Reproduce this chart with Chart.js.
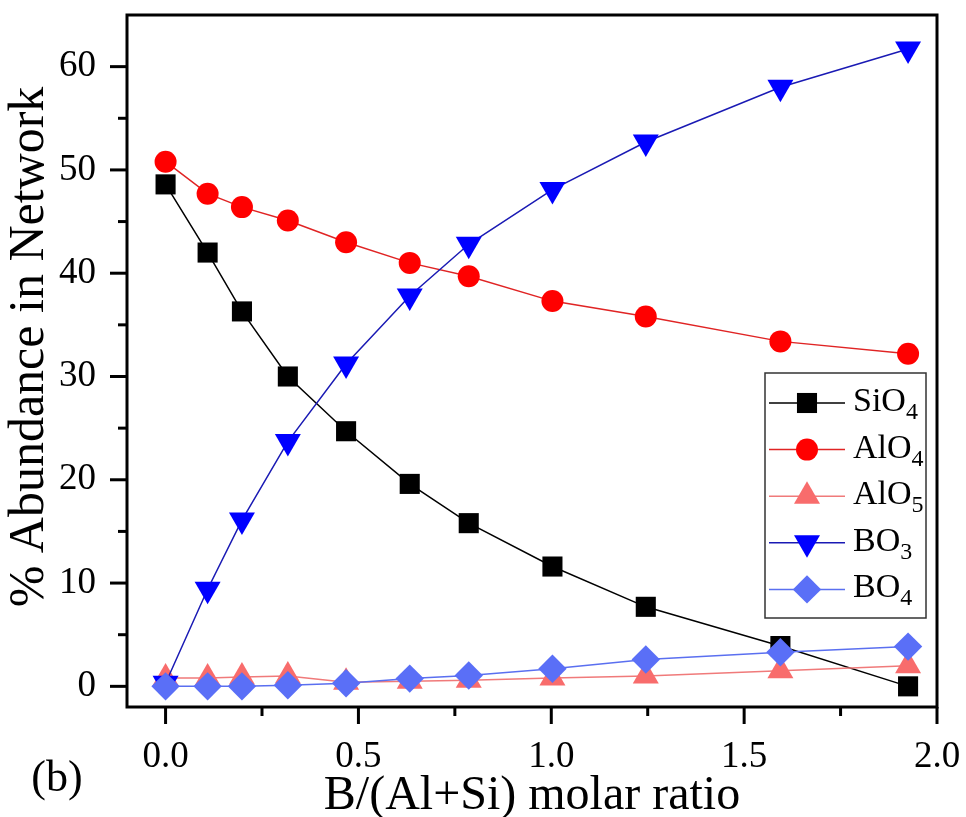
<!DOCTYPE html>
<html><head><meta charset="utf-8">
<script src="https://cdn.jsdelivr.net/npm/chart.js@4.4.1/dist/chart.umd.min.js"></script>
<style>html,body{margin:0;padding:0;background:#fff}#wrap{width:966px;height:817px;position:relative}</style>
</head><body><div id="wrap"><canvas id="c"></canvas></div>
<script>
// ---- data ----
const ratio = [0, 0.109, 0.198, 0.317, 0.468, 0.633, 0.786, 1.003, 1.245, 1.594, 1.925];
const sio4  = [48.6, 42.0, 36.3, 30.0, 24.7, 19.6, 15.8, 11.6, 7.7, 3.9, 0.0];
const alo4  = [50.8, 47.7, 46.4, 45.1, 43.0, 41.0, 39.7, 37.3, 35.8, 33.4, 32.2];
const alo5  = [0.8, 0.8, 0.9, 1.0, 0.4, 0.5, 0.6, 0.8, 1.0, 1.5, 2.0];
const bo3   = [0.3, 9.4, 16.1, 23.7, 31.2, 37.8, 42.8, 48.1, 52.7, 58.0, 61.7];
const bo4   = [0.0, 0.0, 0.0, 0.1, 0.3, 0.75, 1.05, 1.7, 2.6, 3.3, 3.85];
const seriesNames = ['SiO4', 'AlO4', 'AlO5', 'BO3', 'BO4'];
const xTicks = [0, 0.5, 1.0, 1.5, 2.0];
const xMinor = [0.25, 0.75, 1.25, 1.75];
const yTicks = [0, 10, 20, 30, 40, 50, 60];
const yMinor = [5, 15, 25, 35, 45, 55];
const xTitle = 'B/(Al+Si) molar ratio';
const yTitle = '% Abundance in Network';
const panelLabel = '(b)';

const FONT = "'Liberation Serif', 'Times New Roman', serif";

function series(label, vals, fill, line, style, r, rot, order) {
  return {
    label, data: ratio.map((x, i) => ({x, y: vals[i]})),
    borderColor: line, backgroundColor: fill,
    pointBackgroundColor: fill, pointBorderColor: fill, pointBorderWidth: 0,
    pointStyle: style, pointRadius: r, pointHoverRadius: r, pointRotation: rot,
    borderWidth: 1.5, tension: 0, order, showLine: true, fill: false
  };
}

const datasets = [
  series(seriesNames[0], sio4, '#000000', '#000000', 'rect', 14.2, 0, 5),
  series(seriesNames[1], alo4, '#ff0000', '#e02424', 'circle', 11, 0, 4),
  series(seriesNames[2], alo5, '#f86c6c', '#f07a7a', 'triangle', 15, 0, 3),
  series(seriesNames[3], bo3,  '#0000ff', '#1a1ab4', 'triangle', 15, 180, 2),
  series(seriesNames[4], bo4,  '#5a6ff7', '#5a6ff0', 'rectRot', 14.2, 0, 1)
];

function marker(ctx, style, x, y, r, rot) {
  ctx.beginPath();
  if (style === 'circle') {
    ctx.arc(x, y, r, 0, Math.PI * 2);
  } else if (style === 'rect') {
    const s = Math.SQRT1_2 * r;
    ctx.rect(x - s, y - s, 2 * s, 2 * s);
  } else if (style === 'rectRot') {
    ctx.moveTo(x, y - r); ctx.lineTo(x + r, y); ctx.lineTo(x, y + r); ctx.lineTo(x - r, y);
  } else if (style === 'triangle') {
    let a = rot * Math.PI / 180;
    ctx.moveTo(x + Math.sin(a) * r, y - Math.cos(a) * r);
    a += 2 * Math.PI / 3;
    ctx.lineTo(x + Math.sin(a) * r, y - Math.cos(a) * r);
    a += 2 * Math.PI / 3;
    ctx.lineTo(x + Math.sin(a) * r, y - Math.cos(a) * r);
  }
  ctx.closePath();
  ctx.fill();
}

const TITLE_SHIFT = 28;
const decor = {
  id: 'decor',
  beforeDraw(chart) {
    // the reference's y title sits a little above the plot centre:
    // shift the y scale box only while the axis (and its title) is drawn
    chart.scales.y.bottom -= TITLE_SHIFT;
  },
  beforeDatasetsDraw(chart) {
    chart.scales.y.bottom += TITLE_SHIFT;
  },
  afterDraw(chart) {
    const {ctx, chartArea: a, scales: {x, y}} = chart;
    ctx.save();
    // frame
    ctx.strokeStyle = '#000';
    ctx.lineWidth = 3;
    ctx.lineCap = 'butt';
    ctx.strokeRect(a.left, a.top, a.right - a.left, a.bottom - a.top);
    const seg = (x1, y1, x2, y2) => { ctx.beginPath(); ctx.moveTo(x1, y1); ctx.lineTo(x2, y2); ctx.stroke(); };
    xTicks.forEach(v => { const p = x.getPixelForValue(v); seg(p, a.bottom, p, a.bottom + 17); });
    xMinor.forEach(v => { const p = x.getPixelForValue(v); seg(p, a.bottom, p, a.bottom + 9); });
    yTicks.forEach(v => { const p = y.getPixelForValue(v); seg(a.left, p, a.left - 17, p); });
    yMinor.forEach(v => { const p = y.getPixelForValue(v); seg(a.left, p, a.left - 9, p); });

    // legend
    const lx = 765, ly = 373, lw = 161, lh = 245;
    ctx.fillStyle = '#fff';
    ctx.fillRect(lx, ly, lw, lh);
    ctx.strokeStyle = '#333';
    ctx.lineWidth = 1.5;
    ctx.strokeRect(lx, ly, lw, lh);
    datasets.forEach((ds, i) => {
      const ry = 403 + i * 46.6;
      ctx.strokeStyle = ds.borderColor;
      ctx.lineWidth = 1.5;
      seg(769, ry, 845, ry);
      ctx.fillStyle = ds.pointBackgroundColor;
      marker(ctx, ds.pointStyle, 807, ry, ds.pointRadius, ds.pointRotation);
      const name = ds.label;
      const base = name.replace(/\d+$/, '');
      const sub = name.slice(base.length);
      ctx.fillStyle = '#000';
      ctx.textBaseline = 'alphabetic';
      ctx.textAlign = 'left';
      ctx.font = "34px " + FONT;
      ctx.fillText(base, 853, ry + 8);
      const w = ctx.measureText(base).width;
      ctx.font = "24px " + FONT;
      ctx.fillText(sub, 853 + w, ry + 16);
    });

    // panel label
    ctx.fillStyle = '#000';
    ctx.font = "44px " + FONT;
    ctx.textAlign = 'center';
    ctx.textBaseline = 'alphabetic';
    ctx.fillText(panelLabel, 57, 791);
    ctx.restore();
  }
};

function fixBox(s, prop, val) {
  s[prop] = val;
  s.paddingTop = 0; s.paddingBottom = 0; s.paddingLeft = 0; s.paddingRight = 0;
}

new Chart(document.getElementById('c'), {
  type: 'line',
  data: {datasets},
  plugins: [decor],
  options: {
    responsive: true,
    maintainAspectRatio: false,
    animation: false,
    events: [],
    layout: {padding: {left: 0, top: 15, right: 29, bottom: 0}},
    plugins: {legend: {display: false}, tooltip: {enabled: false}},
    scales: {
      x: {
        type: 'linear', min: -0.1, max: 2.0,
        afterFit(s) { fixBox(s, 'height', 110); },
        afterBuildTicks(s) { s.ticks = xTicks.map(v => ({value: v})); },
        grid: {display: false, drawTicks: false},
        border: {display: false},
        ticks: {
          color: '#000', padding: 28, maxRotation: 0, autoSkip: false,
          font: {family: FONT, size: 37},
          callback: v => v.toFixed(1)
        },
        title: {display: true, text: xTitle, color: '#000',
          font: {family: FONT, size: 48, lineHeight: 0.8}, padding: {top: 0, bottom: 1}}
      },
      y: {
        type: 'linear', min: -2, max: 65,
        afterFit(s) { fixBox(s, 'width', 127); },
        afterBuildTicks(s) { s.ticks = yTicks.map(v => ({value: v})); },
        grid: {display: false, drawTicks: false},
        border: {display: false},
        ticks: {
          color: '#000', padding: 31, autoSkip: false,
          font: {family: FONT, size: 37},
          callback: v => String(v)
        },
        title: {display: true, text: yTitle, color: '#000',
          font: {family: FONT, size: 50, lineHeight: 1}, padding: {top: 5, bottom: 0}}
      }
    }
  }
});
</script>
</body></html>
